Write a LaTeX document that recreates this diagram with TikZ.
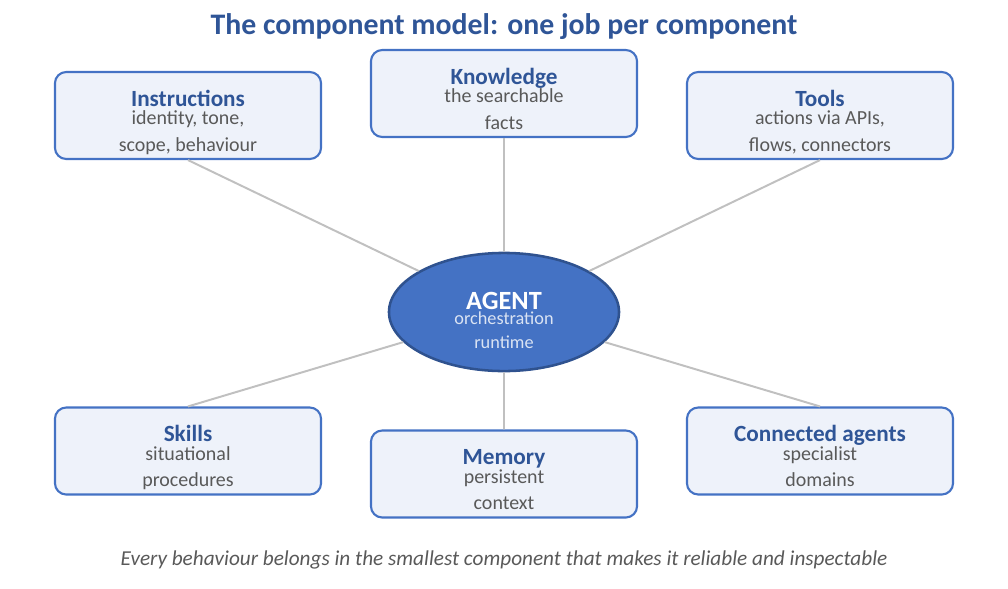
\documentclass[tikz,border=0pt]{standalone}
\usepackage{fontspec}
\setmainfont{Carlito}
\usetikzlibrary{shapes.geometric}
\definecolor{accent}{HTML}{4472C4}
\definecolor{heading}{HTML}{2F5597}
\definecolor{boxfill}{HTML}{EEF2FA}
\definecolor{bodygray}{HTML}{595959}
\definecolor{spokegray}{HTML}{C0C0C0}
\definecolor{agentedge}{HTML}{2F528F}
\definecolor{agenttext}{HTML}{DAE3F3}
% first line of a box, with a strut so every box sits alike
\newcommand\parthead[1]{\rule{0pt}{22.9pt}{\fontsize{16.5}{19}\selectfont\bfseries\color{heading}#1}}
\newcommand\partend{\rule[-4pt]{0pt}{4pt}}
\begin{document}
\begin{tikzpicture}[x=0.025cm, y=-0.025cm,
  part/.style={rectangle, rounded corners=8pt, draw=accent, line width=1.5pt, fill=boxfill, minimum width=6.65cm, minimum height=2.175cm, inner sep=0pt, align=center, text=bodygray, font=\fontsize{14.2}{19}\selectfont},
  spoke/.style={draw=spokegray, line width=1.4pt}]
\useasboundingbox (0,0) rectangle (1008,588);
\node[text=heading, font=\fontsize{21.2}{25}\selectfont\bfseries] (title) at (504,27) {The component model: one job per component};
% the agent in the middle
\node[ellipse, draw=agentedge, line width=1.8pt, fill=accent, minimum width=5.75cm, minimum height=2.925cm, inner sep=0pt, align=center, text=agenttext, font=\fontsize{13}{16.6}\selectfont] (agent) at (504,312)
  {\rule{0pt}{27.8pt}{\fontsize{18.7}{20}\selectfont\bfseries\color{white}AGENT}\\[-5.6pt] orchestration\\ runtime\partend};
% top row
\node[part] (instr) at (188,115.5) {\parthead{Instructions}\\[-6pt] identity, tone,\\ scope, behaviour\partend};
\node[part] (know) at (504,93.5) {\parthead{Knowledge}\\[-6pt] the searchable\\ facts\partend};
\node[part] (tools) at (820,115.5) {\parthead{Tools}\\[-6pt] actions via APIs,\\ flows, connectors\partend};
% bottom row
\node[part] (skills) at (188,451) {\parthead{Skills}\\[-6pt] situational\\ procedures\partend};
\node[part] (memory) at (504,474) {\parthead{Memory}\\[-6pt] persistent\\ context\partend};
\node[part] (conn) at (820,451) {\parthead{Connected agents}\\[-6pt] specialist\\ domains\partend};
\draw[spoke] (instr.south) -- (agent) (know.south) -- (agent) (tools.south) -- (agent);
\draw[spoke] (skills.north) -- (agent) (memory.north) -- (agent) (conn.north) -- (agent);
\node[text=bodygray, font=\fontsize{15.1}{18}\selectfont\itshape] (motto) at (504,560) {Every behaviour belongs in the smallest component that makes it reliable and inspectable};
\end{tikzpicture}
\end{document}
